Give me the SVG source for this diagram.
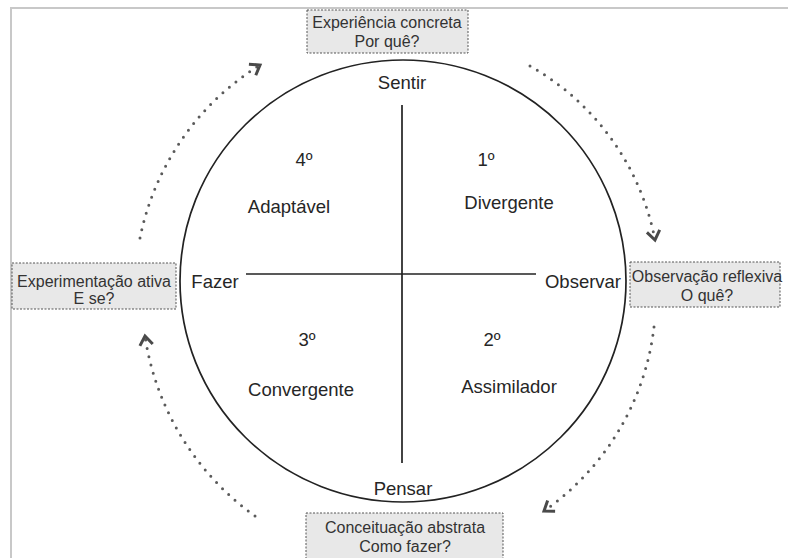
<svg xmlns="http://www.w3.org/2000/svg" width="788" height="558" viewBox="0 0 788 558">
<style>
text{font-family:"Liberation Sans",Arial,sans-serif;}
.lbl{font-size:18.5px;fill:#262626;text-anchor:middle;}
.box rect{fill:#e8e8e8;stroke:#555;stroke-width:1;stroke-dasharray:2 1.5;}
.box text{font-size:16px;fill:#333;text-anchor:middle;}
.cyc{fill:none;stroke:#5a5a5a;stroke-width:3;stroke-linecap:round;stroke-dasharray:0 8.5;}
.ln{stroke:#222;stroke-width:1.7;fill:none;}
</style>
<defs>
<marker id="chev" markerUnits="userSpaceOnUse" markerWidth="18" markerHeight="18" refX="11" refY="8" orient="auto">
<path d="M2,1.5 L11,8 L2,14.5" fill="none" stroke="#4a4a4a" stroke-width="3" stroke-linejoin="miter"/>
</marker>
</defs>
<rect width="788" height="558" fill="#fff"/>
<path d="M11,558 V8 H788" fill="none" stroke="#c8c8c8" stroke-width="2"/>
<g id="circle">
<ellipse class="ln" cx="403" cy="281" rx="223" ry="221"/>
<line class="ln" x1="402" y1="105" x2="402" y2="463"/>
<line class="ln" x1="246" y1="274" x2="536" y2="274"/>
</g>
<g id="labels">
<text class="lbl" x="402" y="89">Sentir</text>
<text class="lbl" x="403" y="495">Pensar</text>
<text class="lbl" x="215" y="288">Fazer</text>
<text class="lbl" x="583" y="288">Observar</text>
<text class="lbl" x="304" y="166">4º</text>
<text class="lbl" x="289" y="213">Adaptável</text>
<text class="lbl" x="486" y="166">1º</text>
<text class="lbl" x="509" y="209">Divergente</text>
<text class="lbl" x="307" y="346">3º</text>
<text class="lbl" x="301" y="396">Convergente</text>
<text class="lbl" x="492" y="346">2º</text>
<text class="lbl" x="509" y="393">Assimilador</text>
</g>
<g id="top" class="box">
<rect x="307" y="10" width="161" height="43"/>
<text x="387" y="28">Experiência concreta</text>
<text x="387" y="47">Por quê?</text>
</g>
<g id="right" class="box">
<rect x="630" y="262" width="150" height="45"/>
<text x="707" y="282">Observação reflexiva</text>
<text x="707" y="301">O quê?</text>
</g>
<g id="bottom" class="box">
<rect x="306" y="513" width="197" height="50"/>
<text x="405" y="533">Conceituação abstrata</text>
<text x="405" y="552">Como fazer?</text>
</g>
<g id="left" class="box">
<rect x="12" y="263" width="164" height="46"/>
<text x="94" y="287">Experimentação ativa</text>
<text x="94" y="304">E se?</text>
</g>
<g id="connectors">
<path class="cyc" d="M140,238 A265,265 0 0 1 260,65" marker-end="url(#chev)"/>
<path class="cyc" d="M530,66 A255,255 0 0 1 655,240" marker-end="url(#chev)"/>
<path class="cyc" d="M654,327 A262,262 0 0 1 544,511" marker-end="url(#chev)"/>
<path class="cyc" d="M255,516 A270,270 0 0 1 145,336" marker-end="url(#chev)"/>
</g>
</svg>
